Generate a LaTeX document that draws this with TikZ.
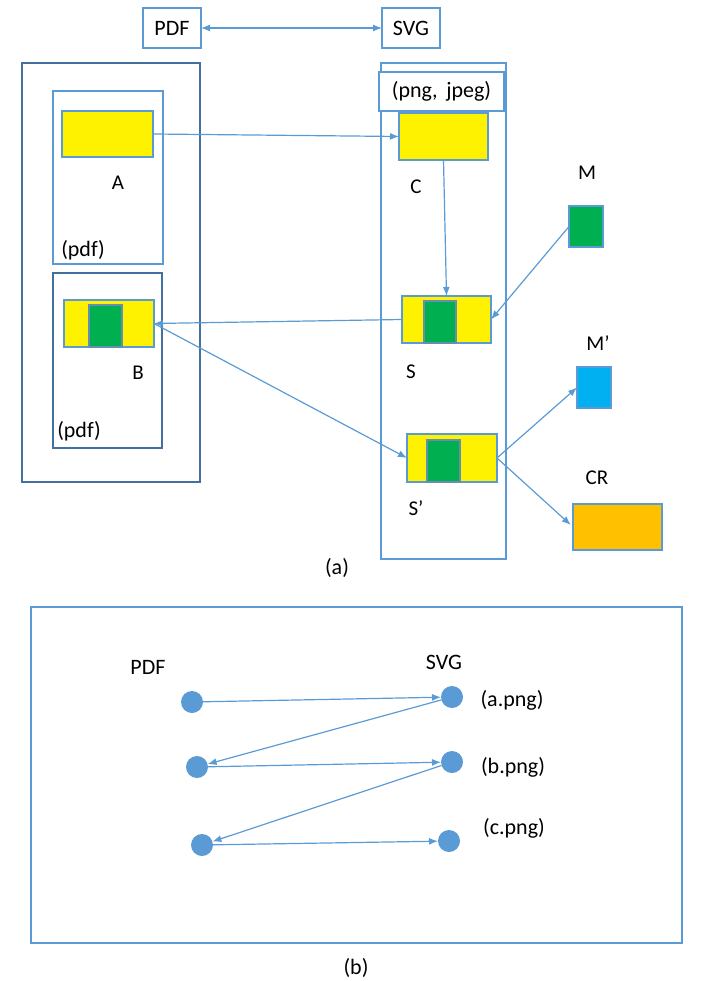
\documentclass[tikz,border=0pt]{standalone}
\usepackage{fontspec}
\setmainfont{Carlito}
\usetikzlibrary{arrows.meta}
\definecolor{lblue}{HTML}{5B9BD5}
\definecolor{dblue}{HTML}{41719C}
\definecolor{ygreen}{HTML}{00B050}
\definecolor{cyanb}{HTML}{00B0F0}
\definecolor{orng}{HTML}{FFC000}
\tikzset{
  frame/.style={draw=lblue, line width=1.4pt, inner sep=0pt, outer sep=0pt, fill=none},
  dframe/.style={draw=dblue, line width=1.4pt, inner sep=0pt, outer sep=0pt},
  tbox/.style={draw=lblue, line width=1.4pt, inner sep=0pt, outer sep=0pt, font=\fontsize{22}{26}\selectfont},
  colbox/.style={draw=lblue, line width=1.2pt, inner sep=0pt, outer sep=0pt},
  ingreen/.style={draw=dblue!80, line width=1.2pt, fill=ygreen, inner sep=0pt, outer sep=0pt},
  lab/.style={font=\fontsize{21}{24}\selectfont, inner sep=0pt},
  txt/.style={font=\fontsize{22}{26}\selectfont, inner sep=0pt},
  conn/.style={draw=lblue, line width=1.2pt, -{Latex[length=9pt,width=7pt]}},
  dot/.style={circle, fill=lblue, minimum size=22pt, inner sep=0pt, outer sep=0pt},
}
\begin{document}
\begin{tikzpicture}[x=1pt,y=-1pt]
\useasboundingbox (0,0) rectangle (708,981);
% top
\node[tbox, minimum width=58pt, minimum height=40pt] (pdfT) at (172,28) {PDF};
\node[tbox, minimum width=58pt, minimum height=40pt] (svgT) at (411,28) {SVG};
\draw[conn, {Latex[length=9pt,width=7pt]}-{Latex[length=9pt,width=7pt]}] (pdfT) -- (svgT);
% left column
\node[dframe, minimum width=178pt, minimum height=419pt] (L) at (111,272.5) {};
\node[frame, minimum width=110pt, minimum height=173pt] (inA) at (108,177.5) {};
\node[colbox, fill=yellow, minimum width=91pt, minimum height=46pt] (A) at (107.5,134) {};
\node[lab] (Alab) at (118,183) {A};
\node[txt] (pdfA) at (83,250) {(pdf)};
\node[dframe, minimum width=109pt, minimum height=175pt] (inB) at (107.5,360.5) {};
\node[colbox, fill=yellow, minimum width=90pt, minimum height=47pt] (B) at (109,323.5) {};
\node[ingreen, minimum width=33pt, minimum height=42pt] (Bg) at (105.5,326) {};
\node[lab] (Blab) at (138,373) {B};
\node[txt] (pdfB) at (79,431) {(pdf)};
% SVG column
\node[frame, minimum width=125pt, minimum height=496pt] (col) at (443.5,311) {};
\node[tbox, fill=white, minimum width=125pt, minimum height=39pt] (png) at (441.5,91.5) {(png,\, jpeg)};
\node[colbox, fill=yellow, minimum width=89pt, minimum height=47pt] (C) at (443.5,136.5) {};
\node[lab] (Clab) at (416,187) {C};
\node[colbox, fill=yellow, minimum width=89pt, minimum height=47pt] (S) at (446.5,319.5) {};
\node[ingreen, minimum width=32pt, minimum height=42pt] (Sg) at (440,322) {};
\node[lab] (Slab) at (411,372) {S};
\node[colbox, fill=yellow, minimum width=90pt, minimum height=48pt] (Sp) at (452,458) {};
\node[ingreen, minimum width=33pt, minimum height=42pt] (Spg) at (443.5,461) {};
\node[lab] (Splab) at (416,508) {S’};
% right shapes
\node[lab] (Mlab) at (587,173) {M};
\node[colbox, fill=ygreen, minimum width=34pt, minimum height=41pt] (M) at (586,226.5) {};
\node[lab] (Mplab) at (598,343) {M’};
\node[colbox, fill=cyanb, minimum width=34pt, minimum height=41pt] (Mp) at (594,387.5) {};
\node[lab] (CRlab) at (597,478) {CR};
\node[colbox, fill=orng, minimum width=89pt, minimum height=46pt] (CR) at (617.5,527) {};
% connectors (a)
\draw[conn] (A.east) -- (C.west);
\draw[conn] (C.south) -- (S.north);
\draw[conn] (S.west) -- (B.east);
\draw[conn] (B.east) -- (Sp.west);
\draw[conn] (M.west) -- (S.east);
\draw[conn] (Sp.east) -- (Mp.west);
\draw[conn, shorten >=3pt] (Sp.east) -- (CR.west);
\node[txt] (capa) at (337,568) {(a)};
% panel (b)
\node[frame, minimum width=651pt, minimum height=336pt] (P) at (356.5,775) {};
\node[txt] (pdfL) at (148,667) {PDF};
\node[txt] (svgL) at (444,662) {SVG};
\node[dot] (p1) at (192,702) {};
\node[dot] (p2) at (197,767) {};
\node[dot] (p3) at (202,845) {};
\node[dot] (sa) at (452,697) {};
\node[dot] (sb) at (452,762) {};
\node[dot] (sc) at (449,841) {};
\node[txt] (la) at (512,700) {(a.png)};
\node[txt] (lb) at (513,767) {(b.png)};
\node[txt] (lc) at (514,828) {(c.png)};
\draw[conn] (p1) -- (sa);
\draw[conn] (sa) -- (p2);
\draw[conn] (p2) -- (sb);
\draw[conn] (sb) -- (p3);
\draw[conn] (p3) -- (sc);
\node[txt] (capb) at (356,968) {(b)};
\end{tikzpicture}
\end{document}
